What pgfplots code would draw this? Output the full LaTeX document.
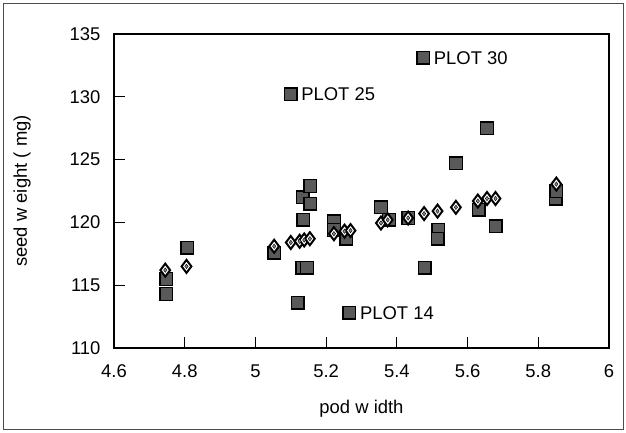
\documentclass[border=0pt]{standalone}
\usepackage{pgfplots}
\pgfplotsset{compat=1.18}
\usepackage{fontspec}
\setmainfont{Liberation Sans}

% seed weight against pod width
\pgfplotstableread{
x y
4.748 115.5
4.748 114.3
4.807 118.0
5.053 117.6
5.100 130.2
5.119 113.6
5.132 116.4
5.146 116.4
5.135 120.2
5.134 122.0
5.155 122.9
5.155 121.5
5.222 120.1
5.222 119.4
5.257 118.7
5.266 112.8
5.355 121.2
5.378 120.2
5.432 120.35
5.475 133.1
5.479 116.4
5.517 119.4
5.515 118.7
5.567 124.7
5.631 121.0
5.655 127.5
5.679 119.7
5.849 121.9
5.851 122.5
}\squares

\pgfplotstableread{
x y
4.745 116.2
4.805 116.5
5.053 118.1
5.100 118.4
5.125 118.5
5.138 118.6
5.154 118.7
5.222 119.1
5.252 119.3
5.269 119.35
5.355 119.95
5.374 120.2
5.432 120.35
5.477 120.7
5.515 120.9
5.567 121.2
5.629 121.7
5.655 121.9
5.679 121.9
5.851 123.05
}\diamonds

\begin{document}
\begin{tikzpicture}[x=1bp,y=1bp]
\path[use as bounding box] (0,0) rectangle (626,432);
\draw[line width=0.8bp, black!70] (3,3) rectangle (623,429);
\begin{axis}[
  at={(114bp,84bp)}, anchor=south west,
  scale only axis,
  width=495bp, height=314bp,
  xmin=4.6, xmax=6, ymin=110, ymax=135,
  xtick={4.6,4.8,...,6.01}, ytick={110,115,...,135},
  xticklabel style={/pgf/number format/fixed, /pgf/number format/precision=1},
  /pgf/number format/assume math mode=true,
  tick align=inside, major tick length=11bp,
  tick style={line width=1.2bp, black},
  xtick pos=bottom, ytick pos=left,
  axis line style={line width=1.2bp},
  ticklabel style={font=\fontsize{18.5}{22}\selectfont},
  xticklabel style={yshift=-13bp},
  yticklabel style={xshift=-10bp},
  clip=false,
]
\addplot[only marks, mark=square*, mark size=6.3bp,
  mark options={fill=black!65, draw=black, line width=1.4bp}]
  table[x=x,y=y]{\squares};
\addplot[only marks, mark=diamond*, mark size=6.5bp,
  mark options={fill=white, draw=black, line width=2bp}]
  table[x=x,y=y]{\diamonds};
\addplot[only marks, mark=diamond*, mark size=2.2bp,
  mark options={fill=black!45, draw=none}]
  table[x=x,y=y]{\diamonds};
\node[anchor=west, font=\fontsize{18.5}{22}\selectfont] at (axis cs:5.475,133.1) [xshift=7bp] {PLOT 30};
\node[anchor=west, font=\fontsize{18.5}{22}\selectfont] at (axis cs:5.100,130.2) [xshift=7bp] {PLOT 25};
\node[anchor=west, font=\fontsize{18.5}{22}\selectfont] at (axis cs:5.266,112.8) [xshift=7bp] {PLOT 14};
\node[font=\fontsize{18.5}{22}\selectfont] at ([yshift=-61bp]rel axis cs:0.5,0) {pod w idth};
\node[font=\fontsize{18.5}{22}\selectfont, rotate=90] at ([xshift=-92bp]rel axis cs:0,0.5) {seed w eight ( mg)};
\end{axis}
\end{tikzpicture}
\end{document}
